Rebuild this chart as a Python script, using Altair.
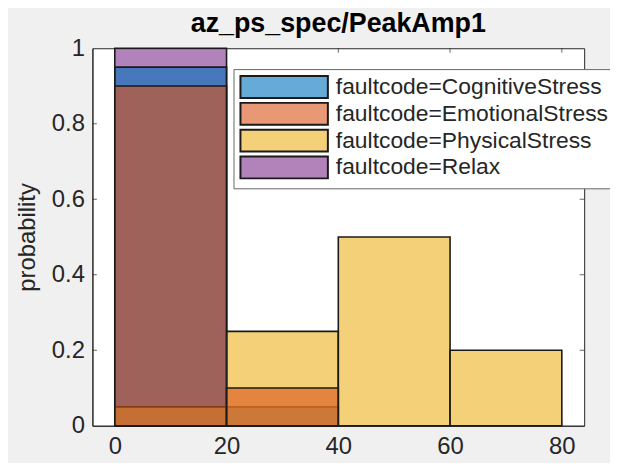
import altair as alt
import pandas as pd

# ---- data ----
bin_edges = [0, 20, 40, 60, 80]
categories = ["CognitiveStress", "EmotionalStress", "PhysicalStress", "Relax"]
cognitive = [0.95, 0.05, 0.0, 0.0]
emotional = [0.90, 0.10, 0.0, 0.0]
physical = [0.05, 0.25, 0.50, 0.20]
relax = [1.00, 0.0, 0.0, 0.0]
series = {
    "CognitiveStress": cognitive,
    "EmotionalStress": emotional,
    "PhysicalStress": physical,
    "Relax": relax,
}
draw_order = ["Relax", "CognitiveStress", "PhysicalStress", "EmotionalStress"]
colors = ["#0072BD", "#D95319", "#EDB120", "#7E2F8E"]
# same colours seen through FaceAlpha 0.6 on white (legend swatches)
legend_colors = ["#66AAD7", "#E89875", "#F4D079", "#B282BB"]

xlim = [-4, 84]
ylim = [0, 1]
xticks = [0, 20, 40, 60, 80]
yticks = [0, 0.2, 0.4, 0.6, 0.8, 1]
title_text = "az_ps_spec/PeakAmp1"
ylabel = "probability"

rows = []
for name in draw_order:
    vals = series[name]
    for i, v in enumerate(vals):
        if v > 0:
            rows.append({"faultcode": name, "x0": bin_edges[i], "x1": bin_edges[i + 1], "p": v})
bars_df = pd.DataFrame(rows)

ytick_rows = [{"x": xv, "y": yv} for xv in xlim for yv in yticks[1:-1]]
xtick_rows = [{"x": xv, "y": yv} for yv in ylim for xv in xticks]

FONT = "Liberation Sans"
INK = "#262626"

xscale = alt.Scale(domain=xlim, nice=False, zero=False)
yscale = alt.Scale(domain=ylim, nice=False)

x_enc = alt.X("x0:Q", scale=xscale, axis=alt.Axis(
    values=xticks, title=None, grid=False, ticks=False, tickSize=0,
    labelPadding=9, labelFontSize=24, labelFont=FONT, labelColor=INK,
    domainColor=INK, labelFlush=False))
y_enc = alt.Y("p:Q", stack=None, scale=yscale, axis=alt.Axis(
    values=yticks, format="~g", title=ylabel, grid=False, ticks=False, tickSize=0,
    labelPadding=8, labelFontSize=24, labelFont=FONT, labelColor=INK,
    titleFont=FONT, titleFontSize=24, titleFontWeight="normal", titleColor=INK,
    titlePadding=12, domainColor=INK, labelFlush=False))

bars = alt.Chart(bars_df).mark_rect(
    fillOpacity=0.6, stroke="#1a1a1a", strokeWidth=1.6
).encode(
    x=x_enc, x2="x1:Q", y=y_enc, y2=alt.datum(0),
    fill=alt.Fill("faultcode:N", scale=alt.Scale(domain=categories, range=colors),
                  legend=None),
)

# legend-only layer (no rows drawn), coloured as the translucent faces look on white
legend_layer = alt.Chart(bars_df).transform_filter("false").mark_rect(
    stroke="#1a1a1a", strokeWidth=2
).encode(
    x="x0:Q", x2="x1:Q", y="p:Q", y2=alt.datum(0),
    fill=alt.Fill("faultcode:N", scale=alt.Scale(domain=categories, range=legend_colors),
                  legend=alt.Legend(
                      title=None, orient="none", legendX=142, legendY=21,
                      labelExpr="'faultcode=' + datum.label", labelLimit=500,
                      labelFont=FONT, labelFontSize=23, labelColor=INK,
                      symbolType="M-1,-1H7V1H-1Z", symbolSize=484,
                      symbolStrokeColor="#1a1a1a", symbolStrokeWidth=2,
                      labelOffset=73, rowPadding=-3, padding=6,
                      fillColor="white", strokeColor="#666666")),
)

ytk = alt.Chart(pd.DataFrame(ytick_rows)).mark_tick(
    orient="horizontal", size=9, thickness=1, color=INK, clip=True
).encode(x="x:Q", y="y:Q")

xtk = alt.Chart(pd.DataFrame(xtick_rows)).mark_tick(
    orient="vertical", size=9, thickness=1, color=INK, clip=True
).encode(x="x:Q", y="y:Q")

chart = alt.layer(bars, legend_layer, ytk, xtk).resolve_scale(fill="independent").properties(
    width=495, height=380,
    title=alt.TitleParams(title_text, font=FONT, fontSize=27, fontWeight="bold",
                          color="black", offset=-2, anchor="middle", frame="group"),
    background="#f0f0f0",
    padding={"left": 85, "top": 39, "right": 26, "bottom": 36},
    autosize=alt.AutoSizeParams(type="none"),
).configure_view(fill="white", stroke=INK, strokeWidth=1)

chart.save("out.html", embed_options={"renderer": "svg", "actions": False})
